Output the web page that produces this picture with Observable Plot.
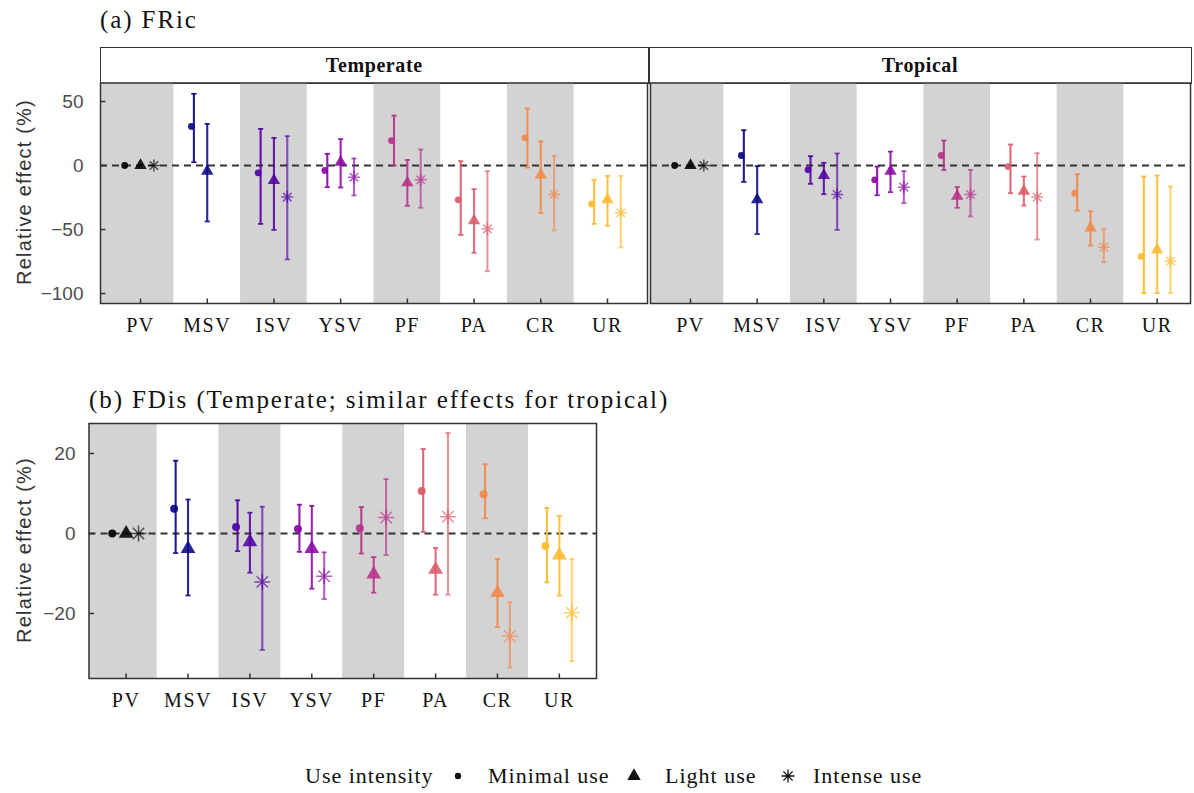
<!DOCTYPE html>
<html><head><meta charset="utf-8">
<script src="https://cdn.jsdelivr.net/npm/d3@7"></script>
<script src="https://cdn.jsdelivr.net/npm/@observablehq/plot@0.6"></script>
<style>
body{margin:0;background:#fff}
#root{position:relative;width:1194px;height:793px;overflow:hidden;font-family:"Liberation Serif",serif;color:#111;background:#fff}
.abs{position:absolute}
.title{font-family:"Liberation Serif",serif;font-size:25px;letter-spacing:1.9px;line-height:30px;white-space:nowrap}
.strip{box-sizing:border-box;border:1.5px solid #333;background:#fff;font-family:"Liberation Serif",serif;font-weight:bold;font-size:20px;letter-spacing:0.6px;display:flex;align-items:center;justify-content:center}
.ytitle{font-family:"Liberation Sans",sans-serif;font-size:20px;letter-spacing:1.2px;color:#333;white-space:nowrap;transform:translate(-50%,-50%) rotate(-90deg)}
.leg{position:absolute;font-family:"Liberation Serif",serif;font-size:22px;letter-spacing:1px;white-space:nowrap;line-height:30px;top:761px}
svg g[aria-label="x-axis tick label"] text{letter-spacing:1.5px}
</style></head>
<body>
<div id="root">
  <div class="abs title" style="left:100px;top:5px">(a) FRic</div>
  <div class="abs strip" style="left:100px;top:47px;width:548.5px;height:37px">Temperate</div>
  <div class="abs strip" style="left:648.5px;top:47px;width:543px;height:37px">Tropical</div>
  <div class="abs ytitle" style="left:24px;top:192px">Relative effect (%)</div>
  <div id="aTemp" class="abs" style="left:0;top:80px"></div>
  <div id="aTrop" class="abs" style="left:648px;top:80px"></div>
  <div class="abs title" style="left:89px;top:385px">(b) FDis (Temperate; similar effects for tropical)</div>
  <div class="abs ytitle" style="left:24px;top:550px">Relative effect (%)</div>
  <div id="bTemp" class="abs" style="left:0;top:420px"></div>
  <div id="legend"></div>
</div>
<script>
// ---------- data ----------
const categories = ["PV", "MSV", "ISV", "YSV", "PF", "PA", "CR", "UR"];
const intensities = ["Minimal use", "Light use", "Intense use"];
const legendTitle = "Use intensity";
// each entry: [mean, lower, upper] in % ; null = not estimated
const fricTemperateMinimal = [[0,0,0],[30.5,2.6,56],[-5.7,-45.6,28.6],[-3.9,-16.9,9.1],[19.5,0,39],[-26.8,-54.2,3.4],[21.6,-1.6,44.5],[-30,-45.6,-11.2]];
const fricTemperateLight   = [[0,0,0],[-4.4,-43.7,32.5],[-11.7,-50.3,21.6],[2.6,-17.2,20.6],[-13.5,-31.5,4.4],[-43,-68.2,-18.5],[-7.3,-37.2,18.8],[-26.6,-47.1,-8.1]];
const fricTemperateIntense = [[0,0,0],null,[-24.7,-73.4,22.9],[-9.1,-23.4,5.5],[-11.2,-33,12.5],[-49.5,-82.6,-4.4],[-22.7,-50.8,7.6],[-37,-64,-8.1]];
const fricTropicalMinimal  = [[0,0,0],[7.8,-12.8,27.6],[-3.4,-14.3,7.3],[-11.2,-23.2,-0.8],[7.8,-3.6,19.5],[-0.8,-21.6,16.4],[-21.6,-35.2,-6.8],[-71,-99.7,-8.6]];
const fricTropicalLight    = [[0,0,0],[-26.6,-53.6,-0.5],[-7.8,-22.4,2.1],[-4.4,-20.8,10.9],[-24,-33,-16.9],[-20,-31.3,-8.6],[-48.7,-62.5,-35.7],[-65.9,-99.7,-7.8]];
const fricTropicalIntense  = [[0,0,0],null,[-22.7,-50.3,9.4],[-16.9,-29.4,-4.4],[-22.7,-39.8,-3.4],[-24.7,-57.8,9.6],[-63.8,-75.5,-49.7],[-74.7,-99.7,-16.4]];
const fdisMinimal = [[0,0,0],[6.2,-4.9,18.2],[1.6,-4.4,8.3],[1.1,-4.6,7.2],[1.3,-5.0,6.6],[10.6,0.4,21.1],[9.8,3.8,17.3],[-3.1,-12.2,6.4]];
const fdisLight   = [[0,0,0],[-3.8,-15.5,8.5],[-2.1,-9.8,5.2],[-3.8,-13.8,6.9],[-10.2,-14.8,-5.9],[-9.0,-15.3,-3.6],[-14.8,-23.4,-6.4],[-5.4,-15.5,4.4]];
const fdisIntense = [[0,0,0],null,[-12.1,-29.1,6.7],[-10.7,-16.4,-4.7],[4.0,-5.4,13.6],[4.2,-15.3,25.1],[-25.7,-33.5,-17.2],[-19.8,-31.9,-6.4]];
const yTicksFRic = [50, 0, -50, -100];
const yTicksFDis = [20, 0, -20];

// ---------- style ----------
const palette = categories.map((c, i) => i === 0 ? "#000000" : d3.interpolatePlasma((i - 1) / 6 * 0.85));
const dodge = [-0.2, 0, 0.2];
const opac = [0.92, 0.88, 0.65];

const asterisk8 = {draw(ctx, size) {
  const r = Math.sqrt(size / Math.PI), d = r * Math.SQRT1_2;
  ctx.moveTo(-r, 0); ctx.lineTo(r, 0); ctx.moveTo(0, -r); ctx.lineTo(0, r);
  ctx.moveTo(-d, -d); ctx.lineTo(d, d); ctx.moveTo(-d, d); ctx.lineTo(d, -d);
}};
const capSym = {draw(ctx, size) { const r = Math.sqrt(size / Math.PI); ctx.moveTo(-r, 0); ctx.lineTo(r, 0); }};
const hTick = {draw(ctx, size) { const r = Math.sqrt(size / Math.PI); ctx.moveTo(0, 0); ctx.lineTo(r, 0); }};
const vTick = {draw(ctx, size) { const r = Math.sqrt(size / Math.PI); ctx.moveTo(0, 0); ctx.lineTo(0, -r); }};

function rowsFor(series) {
  const rows = [];
  series.forEach((arr, k) => arr.forEach((v, i) => {
    if (!v) return;
    rows.push({cat: categories[i], intensity: intensities[k], i, k, pos: i + 1 + dodge[k],
               mean: v[0], lo: v[1], hi: v[2], color: palette[i]});
  }));
  return rows;
}

function panel(o) {
  const {rows, xDomain, yDomain, yTicks, showY, width, height, ml, mr, mt, mb, sz, yPad} = o;
  const last = categories.length - 1;
  const bands = categories.map((c, i) => i).filter(i => i % 2 === 0)
    .map(i => ({x1: i === 0 ? xDomain[0] : i + 0.5, x2: i === last ? xDomain[1] : i + 1.5}));
  const bars = rows.filter(d => d.hi > d.lo);
  const byK = k => rows.filter(d => d.k === k);
  const tickPos = categories.map((c, i) => i + 1);
  const marks = [
    Plot.rect(bands, {x1: "x1", x2: "x2", fill: "#d3d3d3"}),
    Plot.ruleY([0], {stroke: "#333", strokeWidth: 1.8, strokeDasharray: "7,5"}),
    Plot.ruleX(bars, {x: "pos", y1: "lo", y2: "hi", stroke: "color", strokeWidth: 2.1, strokeOpacity: d => opac[d.k]}),
    Plot.dot(bars, {x: "pos", y: "lo", symbol: capSym, r: 2.6, stroke: "color", fill: "none", strokeWidth: 1.8, strokeOpacity: d => opac[d.k]}),
    Plot.dot(bars, {x: "pos", y: "hi", symbol: capSym, r: 2.6, stroke: "color", fill: "none", strokeWidth: 1.8, strokeOpacity: d => opac[d.k]}),
    Plot.dot(byK(0), {x: "pos", y: "mean", r: sz.dot, fill: "color", fillOpacity: opac[0], dx: sz.dx}),
    Plot.dot(byK(1), {x: "pos", y: "mean", symbol: "triangle", r: sz.tri, fill: "color", fillOpacity: opac[1]}),
    Plot.dot(byK(2), {x: "pos", y: "mean", symbol: asterisk8, r: sz.star, stroke: "color", fill: "none", strokeWidth: 1.5, strokeOpacity: opac[2]}),
    Plot.dot(tickPos, {x: d => d, y: () => yDomain[0], symbol: vTick, r: 5, stroke: "#333", strokeWidth: 1.5}),
    Plot.axisX({ticks: tickPos, tickFormat: d => categories[d - 1], tickSize: 0, tickPadding: 14,
                fontSize: 20, fontFamily: "Liberation Serif", color: "#111", label: null}),
    Plot.frame({stroke: "#333", strokeWidth: 1.5})
  ];
  if (showY) {
    marks.push(
      Plot.dot(yTicks, {x: () => xDomain[0], y: d => d, symbol: hTick, r: 5, stroke: "#333", strokeWidth: 1.5}),
      Plot.axisY({ticks: yTicks, tickSize: 0, tickPadding: yPad, fontSize: 19,
                  fontFamily: "Liberation Sans", color: "#4d4d4d", label: null})
    );
  }
  return Plot.plot({
    width, height, marginLeft: ml, marginRight: mr, marginTop: mt, marginBottom: mb,
    x: {type: "linear", domain: xDomain},
    y: {type: "linear", domain: yDomain, axis: showY ? undefined : null},
    color: {type: "identity"},
    style: {background: "transparent", overflow: "visible"},
    marks
  });
}

const szA = {dot: 3.4, tri: 4.6, star: 6, dx: -2.5};
const szB = {dot: 4, tri: 5.5, star: 8, dx: -1.5};
const yDomA = [-107.8, 64.45];

document.getElementById("aTemp").append(panel({
  rows: rowsFor([fricTemperateMinimal, fricTemperateLight, fricTemperateIntense]),
  xDomain: [0.4, 8.6], yDomain: yDomA, yTicks: yTicksFRic, showY: true, yPad: 17,
  width: 648, height: 263, ml: 100, mr: 1, mt: 2.5, mb: 40, sz: szA
}));
document.getElementById("aTrop").append(panel({
  rows: rowsFor([fricTropicalMinimal, fricTropicalLight, fricTropicalIntense]),
  xDomain: [0.4, 8.5], yDomain: yDomA, yTicks: yTicksFRic, showY: false,
  width: 546, height: 263, ml: 2, mr: 4, mt: 2.5, mb: 40, sz: szA
}));
document.getElementById("bTemp").append(panel({
  rows: rowsFor([fdisMinimal, fdisLight, fdisIntense]),
  xDomain: [0.4, 8.6], yDomain: [-36.25, 27.5], yTicks: yTicksFDis, showY: true, yPad: 13.5,
  width: 598, height: 298, ml: 88.5, mr: 2, mt: 3, mb: 40, sz: szB
}));

// ---------- legend ----------
const legend = document.getElementById("legend");
const legTextX = [488, 665, 813];
const legSymX = [458, 634, 788];
const t0 = document.createElement("div");
t0.className = "leg"; t0.style.left = "305px"; t0.textContent = legendTitle;
legend.append(t0);
intensities.forEach((name, k) => {
  const t = document.createElement("div");
  t.className = "leg"; t.style.left = legTextX[k] + "px"; t.textContent = name;
  legend.append(t);
  const s = d3.create("svg").attr("width", 20).attr("height", 20)
    .style("position", "absolute").style("left", (legSymX[k] - 10) + "px").style("top", "766px");
  const sym = [d3.symbolCircle, d3.symbolTriangle, asterisk8][k];
  const size = [3.2, 5, 6.5][k];
  s.append("path").attr("transform", "translate(10,10)")
    .attr("d", d3.symbol(sym, size * size * Math.PI)())
    .attr("fill", k === 2 ? "none" : "#111").attr("stroke", k === 2 ? "#111" : "none").attr("stroke-width", 1.3);
  legend.append(s.node());
});
</script>
</body></html>
